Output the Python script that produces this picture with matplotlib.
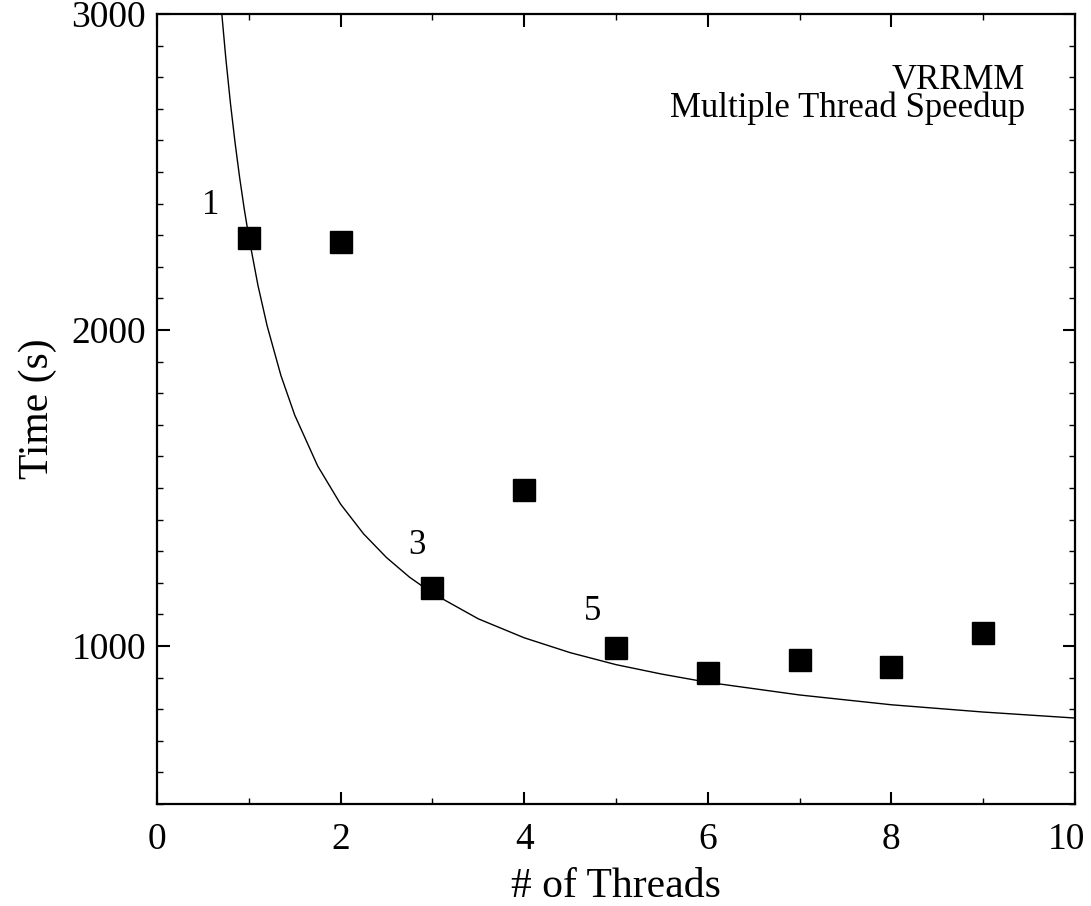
import matplotlib
matplotlib.use("Agg")
import matplotlib.pyplot as plt
from matplotlib.ticker import MultipleLocator
from matplotlib.transforms import offset_copy

plt.rcParams["font.family"] = ["Liberation Serif", "DejaVu Serif"]

# measured run times per thread count
threads = [1, 2, 3, 4, 5, 6, 7, 8, 9]
times = [2291, 2280, 1184, 1493, 995, 914, 956, 933, 1041]

# speedup model curve, sampled
curve_x = [0.70, 0.75, 0.80, 0.85, 0.90, 0.95, 1.0, 1.1, 1.2, 1.35, 1.5, 1.75,
           2.0, 2.25, 2.5, 2.75, 3.0, 3.5, 4.0, 4.5, 5.0, 5.5, 6.0, 7.0, 8.0,
           9.0, 10.0]
curve_t = [3020, 2859, 2718, 2594, 2483, 2384, 2295, 2141, 2013, 1856, 1731,
           1570, 1449, 1355, 1280, 1218, 1167, 1086, 1026, 979, 941, 911, 885,
           845, 814, 791, 772]

# labelled points
label_text = ["1", "3", "5"]
label_x = [0.58, 2.83, 4.75]
label_t = [2395, 1318, 1110]

fig = plt.figure(figsize=(10.91, 9.06), dpi=100)
ax = fig.add_axes([0.1439, 0.1126, 0.8414, 0.8719])

ax.plot(curve_x, curve_t, color="black", linewidth=1.0)
ax.plot(threads, times, linestyle="none", marker="s", markersize=16,
        color="black")

for txt, lx, lt in zip(label_text, label_x, label_t):
    ax.text(lx, lt, txt, fontsize=25, ha="center", va="center")

# va="baseline" on two lines pins the baseline of the second line
ax.text(0.9455, 0.8696, "VRRMM\nMultiple Thread Speedup",
        transform=ax.transAxes, fontsize=25, ha="right", va="baseline",
        multialignment="right", linespacing=0.8)

ax.set_xlim(0, 10)
ax.set_ylim(500, 3000)
ax.xaxis.set_major_locator(MultipleLocator(2))
ax.xaxis.set_minor_locator(MultipleLocator(1))
ax.yaxis.set_major_locator(MultipleLocator(1000))
ax.yaxis.set_minor_locator(MultipleLocator(100))

ax.tick_params(which="both", direction="in", top=True, right=True,
               labelsize=27)
ax.tick_params(which="major", length=9, width=1.5)
ax.tick_params(which="minor", length=4.5, width=1.0)
ax.tick_params(axis="x", which="major", pad=13)
ax.tick_params(axis="y", which="major", pad=8)
for s in ax.spines.values():
    s.set_linewidth(1.6)

ax.set_xlabel("# of Threads", fontsize=30, labelpad=8)
ax.set_ylabel("Time (s)", fontsize=30, labelpad=10)

# pull the "10" label in from the right edge
fig.canvas.draw()
for lbl in ax.get_xticklabels():
    if lbl.get_text() == "10":
        lbl.set_transform(offset_copy(lbl.get_transform(), fig=fig, x=-9,
                                      units="dots"))

fig.savefig("out.png", dpi=100)
